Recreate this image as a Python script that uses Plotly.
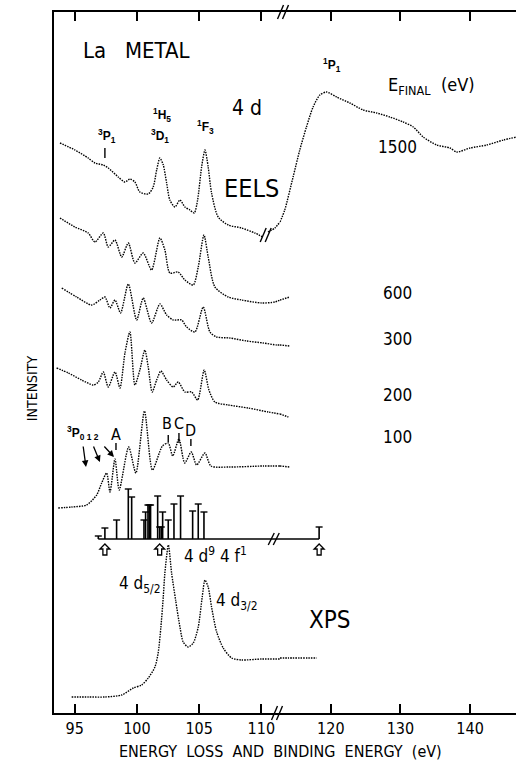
import plotly.graph_objects as go

# ---------------- data ----------------
# Energy axis is broken between 111.5 and 112.7 eV
X_BREAK = (111.5, 112.7)

# EELS, E_final = 1500 eV (gap in the trace near 110.3 eV)
E_1500 = [93.82, 95.02, 96.09, 96.63, 97.30, 97.70, 98.50, 99.04, 99.44, 99.84,
          100.24, 100.91, 101.31, 101.59, 101.85, 102.12, 102.39, 102.65, 103.06, 103.46,
          103.86, 104.26, 104.61, 104.88, 105.20, 105.47, 105.73, 106.00, 106.53, 107.34,
          108.41, 109.48, 110.12, 110.53, 111.09, 111.50, 112.70, 113.38, 114.58, 115.54,
          116.50, 117.45, 118.42, 119.38, 120.82, 122.73, 124.65, 126.58, 128.49, 130.40,
          131.84, 133.28, 135.21, 137.12, 138.09, 140.00, 142.40, 144.79, 146.70]
I_1500 = [570, 563, 555, 550, 548, 545, 536, 531, 534, 531,
          521, 519, 526, 543, 555, 548, 530, 513, 506, 513,
          506, 503, 500, 513, 546, 563, 546, 520, 496, 488,
          485, 480, 476, 481, 485, 491, 491, 503, 536, 563,
          586, 606, 618, 621, 616, 610, 603, 600, 596, 591,
          586, 576, 568, 565, 561, 565, 568, 573, 576]
GAP_1500 = 110.3

# EELS, E_final = 600 eV
E_600 = [93.82, 95.02, 96.09, 96.63, 97.30, 97.70, 98.24, 98.78, 99.31, 99.84,
         100.51, 101.18, 101.85, 102.25, 102.65, 103.32, 103.86, 104.53, 104.93, 105.39,
         105.73, 106.27, 107.34, 108.41, 110.02, 111.09, 111.50, 112.70, 114.10]
I_600 = [495, 486, 480, 471, 480, 466, 473, 456, 470, 450,
         460, 443, 475, 463, 440, 441, 433, 428, 446, 478,
         456, 426, 416, 413, 410, 411, 413, 413, 416]

# EELS, E_final = 300 eV
E_300 = [93.96, 95.16, 96.37, 97.03, 97.43, 97.84, 98.24, 98.69, 99.31, 99.98,
         100.51, 101.18, 101.85, 102.39, 102.92, 103.59, 104.00, 104.66, 105.33, 105.87,
         106.41, 107.47, 108.82, 110.15, 111.22, 111.50, 112.70, 114.10]
I_300 = [425, 416, 408, 413, 416, 405, 413, 400, 429, 393,
         415, 390, 409, 398, 393, 393, 386, 381, 406, 381,
         376, 375, 372, 370, 368, 368, 368, 367]

# EELS, E_final = 200 eV
E_200 = [93.55, 94.49, 95.56, 96.49, 96.90, 97.30, 97.70, 98.24, 98.64, 99.04,
         99.44, 99.84, 100.24, 100.64, 100.91, 101.23, 101.59, 101.93, 102.39, 102.92,
         103.32, 103.86, 104.40, 104.88, 105.41, 105.79, 106.27, 107.34, 108.94, 110.55,
         111.50, 112.70, 113.90]
I_200 = [345, 340, 333, 328, 331, 341, 326, 341, 325, 360,
         381, 328, 343, 363, 346, 321, 333, 342, 333, 326,
         331, 321, 321, 313, 343, 323, 311, 308, 305, 301,
         299, 299, 296]

# EELS, E_final = 100 eV
E_100 = [93.68, 94.78, 95.96, 96.77, 97.17, 97.57, 97.84, 98.24, 98.58, 99.34,
         99.92, 100.61, 101.25, 102.05, 102.52, 102.88, 103.38, 103.84, 104.37, 104.80,
         105.47, 105.95, 107.47, 110.15, 111.50, 112.70, 114.10]
I_100 = [205, 206, 208, 218, 230, 240, 221, 254, 223, 266,
         240, 302, 243, 267, 270, 257, 274, 250, 261, 248,
         260, 247, 246, 247, 247, 247, 246]

# XPS 4d core level
E_XPS = [94.76, 96.09, 97.43, 98.78, 99.71, 100.38, 100.91, 101.45, 101.71, 101.93,
         102.12, 102.25, 102.53, 102.79, 103.11, 103.46, 103.72, 104.12, 104.53, 104.93,
         105.25, 105.47, 105.73, 106.00, 106.41, 106.94, 107.61, 108.41, 110.02, 111.50,
         112.70, 113.90, 117.98]
I_XPS = [16, 16, 16, 18, 25, 28, 35, 46, 60, 86,
         116, 140, 168, 140, 113, 86, 71, 66, 70, 86,
         116, 133, 126, 106, 81, 65, 55, 53, 54, 54,
         55, 55, 55]

# calculated 4d9 4f1 multiplet lines
STICK_E = [96.90, 97.43, 98.37, 99.31, 99.58, 100.57, 100.70, 100.89, 100.99, 101.10,
           101.67, 101.83, 101.96, 102.07, 102.52, 102.98, 103.51, 104.48, 104.93, 105.39,
           118.32]
STICK_H = [3, 11, 19, 50, 42, 19, 27, 34, 34, 34,
           43, 12, 12, 27, 19, 35, 43, 28, 35, 27,
           12]
STICK_BASE = 174
THRESHOLD_E = [97.43, 101.83, 118.32]

CURVE_LABELS = ["1500", "600", "300", "200", "100"]
CURVE_LABEL_I = [566, 420, 374, 318, 276]

# ---------------- style ----------------
NARROW = "Liberation Sans Narrow, DejaVu Sans Condensed, Arial Narrow, Roboto, sans-serif"
BOLD = "Liberation Sans, Arial, sans-serif"
INK = "black"
SPLIT = 226 / 462

fig = go.Figure()


def halves(E, I, gap=None):
    lo_x, lo_y, hi_x, hi_y = [], [], [], []
    prev = None
    for e, i in zip(E, I):
        if e <= X_BREAK[0]:
            if gap is not None and prev is not None and prev < gap < e:
                lo_x.append(None)
                lo_y.append(None)
            lo_x.append(e)
            lo_y.append(i)
        elif e >= X_BREAK[1]:
            hi_x.append(e)
            hi_y.append(i)
        prev = e
    return (lo_x, lo_y), (hi_x, hi_y)


def add_curve(E, I, gap=None):
    (lx, ly), (hx, hy) = halves(E, I, gap)
    line = dict(color=INK, width=1.4, dash="1.5px,1.1px", shape="spline", smoothing=0.7)
    fig.add_trace(go.Scatter(x=lx, y=ly, mode="lines", line=line, xaxis="x", yaxis="y",
                             connectgaps=False, hoverinfo="skip"))
    if hx:
        fig.add_trace(go.Scatter(x=hx, y=hy, mode="lines", line=line, xaxis="x2", yaxis="y",
                                 hoverinfo="skip"))


add_curve(E_1500, I_1500, GAP_1500)
add_curve(E_600, I_600)
add_curve(E_300, I_300)
add_curve(E_200, I_200)
add_curve(E_100, I_100)
add_curve(E_XPS, I_XPS)

# stick spectrum: baseline, sticks with caps
fig.add_trace(go.Scatter(x=[STICK_E[0], X_BREAK[0]], y=[STICK_BASE, STICK_BASE], mode="lines",
                         line=dict(color=INK, width=1.4), xaxis="x", yaxis="y", hoverinfo="skip"))
fig.add_trace(go.Scatter(x=[X_BREAK[1], STICK_E[-1]], y=[STICK_BASE, STICK_BASE], mode="lines",
                         line=dict(color=INK, width=1.4), xaxis="x2", yaxis="y", hoverinfo="skip"))
for axis, sel in (("x", lambda e: e <= X_BREAK[0]), ("x2", lambda e: e >= X_BREAK[1])):
    sx, sy, cx, cy = [], [], [], []
    for e, h in zip(STICK_E, STICK_H):
        if sel(e):
            sx += [e, e, None]
            sy += [STICK_BASE, STICK_BASE + h, None]
            cx.append(e)
            cy.append(STICK_BASE + h)
    fig.add_trace(go.Scatter(x=sx, y=sy, mode="lines", line=dict(color=INK, width=1.6),
                             xaxis=axis, yaxis="y", hoverinfo="skip"))
    fig.add_trace(go.Scatter(x=cx, y=cy, mode="markers",
                             marker=dict(symbol="line-ew", size=5, line=dict(color=INK, width=1.4)),
                             xaxis=axis, yaxis="y", hoverinfo="skip"))

# ---------------- annotations ----------------
ann = []


def text(x, y, s, size, xref="x", font=NARROW, bold=False, **kw):
    ann.append(dict(x=x, y=y, xref=xref, yref="y", text=f"<b>{s}</b>" if bold else s,
                    showarrow=False, font=dict(family=font, size=size, color=INK), **kw))


text(100.0, 663, "La&nbsp;&nbsp;&nbsp;METAL", 22)
text(108.84, 605, "4 d", 21)
text(109.17, 525, "EELS", 25)
text(119.86, 93, "XPS", 24, xref="x2")
text(134.5, 627, "E<sub>FINAL</sub>&nbsp;&nbsp;(eV)", 18, xref="x2")
for lab, yi in zip(CURVE_LABELS, CURVE_LABEL_I):
    text(129.6, yi, lab, 17, xref="x2")

text(120.14, 648, "<sup>1</sup>P<sub>1</sub>", 12, xref="x2", font=BOLD, bold=True)
text(97.6, 577, "<sup>3</sup>P<sub>1</sub>", 12, font=BOLD, bold=True)
text(102.02, 598, "<sup>1</sup>H<sub>5</sub>", 12, font=BOLD, bold=True)
text(101.86, 577, "<sup>3</sup>D<sub>1</sub>", 12, font=BOLD, bold=True)
text(105.48, 586, "<sup>1</sup>F<sub>3</sub>", 12, font=BOLD, bold=True)
text(95.67, 280, "<sup>3</sup>P<sub>0 1 2</sub>", 12, font=BOLD, bold=True)
text(98.32, 279, "A", 16)
text(102.41, 290, "B", 16)
text(103.42, 290, "C", 16)
text(104.34, 283, "D", 16)
text(106.28, 158, "4 d<sup>9</sup> 4 f<sup>1</sup>", 17)
text(100.26, 129, "4 d<sub>5/2</sub>", 17)
text(108.05, 112, "4 d<sub>3/2</sub>", 17)

# arrows pointing to the 3P0,1,2 thresholds
for hx, hy, ax, ay in ((95.91, 246, -3, -22), (97.03, 251, -7, -17), (98.16, 256, -11, -12)):
    ann.append(dict(x=hx, y=hy, xref="x", yref="y", ax=ax, ay=ay, text="", showarrow=True,
                    arrowhead=2, arrowsize=1.0, arrowwidth=1.3, arrowcolor=INK))

# axis titles
ann.append(dict(x=0.49, y=-0.055, xref="paper", yref="paper", showarrow=False,
                text="ENERGY&nbsp;&nbsp;LOSS&nbsp;&nbsp;AND&nbsp;&nbsp;BINDING&nbsp;&nbsp;ENERGY&nbsp;&nbsp;(eV)",
                font=dict(family=NARROW, size=16, color=INK), yanchor="middle"))
ann.append(dict(x=-0.069, y=0.4636, xref="paper", yref="paper", showarrow=False, textangle=-90,
                text="INTENSITY", font=dict(family=NARROW, size=14, color=INK)))

# ---------------- shapes ----------------
shapes = []


def vtick(e, y0, y1, xref="x"):
    shapes.append(dict(type="line", xref=xref, yref="y", x0=e, x1=e, y0=y0, y1=y1,
                       line=dict(color=INK, width=1.4)))


vtick(97.43, 555, 565)     # 3P1
vtick(98.32, 263, 270)     # A
vtick(102.52, 271, 278)    # B
vtick(103.38, 270, 280)    # C
vtick(104.34, 267, 274)    # D


def break_mark(xref, x, yref, y, h=7):
    for dx in (-2.5, 2.5):
        shapes.append(dict(type="line", xref=xref, yref=yref, xsizemode="pixel", ysizemode="pixel",
                           xanchor=x, yanchor=y, x0=dx - 3, x1=dx + 3, y0=-h, y1=h,
                           line=dict(color=INK, width=1.4)))


break_mark("paper", 0.4827, "paper", 0)      # bottom axis
break_mark("paper", 0.4957, "paper", 1)      # top axis
break_mark("x", 110.35, "y", 478)            # gap in the 1500 eV trace
break_mark("x", 111.0, "y", STICK_BASE, 6)   # gap in the multiplet axis

# hollow up-arrows under the multiplet axis
ARROW_PATH = "M 0 6 L -5 1 L -2 1 L -2 -5 L 2 -5 L 2 1 L 5 1 Z"
for e in THRESHOLD_E:
    shapes.append(dict(type="path", xref="x" if e <= X_BREAK[0] else "x2", yref="y",
                       xsizemode="pixel", ysizemode="pixel", xanchor=e, yanchor=STICK_BASE - 11,
                       path=ARROW_PATH, line=dict(color=INK, width=1.3), fillcolor="white"))

# ---------------- layout ----------------
axis_common = dict(ticks="inside", ticklen=9, tickwidth=1.5, tickcolor=INK, showline=True,
                   linecolor=INK, linewidth=1.5, mirror="ticks", showgrid=False, zeroline=False,
                   tickfont=dict(family=NARROW, size=16, color=INK), anchor="y",
                   ticklabelstandoff=0)

fig.update_layout(
    width=516, height=766,
    margin=dict(l=54, r=0, t=12, b=53),
    paper_bgcolor="white", plot_bgcolor="white", showlegend=False,
    xaxis=dict(domain=[0, SPLIT], range=[93.34, X_BREAK[0]], tickvals=[95, 100, 105, 110],
               **axis_common),
    xaxis2=dict(domain=[SPLIT, 1], range=[X_BREAK[1], 146.6], tickvals=[120, 130, 140],
                **axis_common),
    yaxis=dict(range=[0, 701], showline=True, linecolor=INK, linewidth=1.5, showticklabels=False,
               ticks="", showgrid=False, zeroline=False),
    annotations=ann, shapes=shapes,
)

fig.write_html("out.html")
